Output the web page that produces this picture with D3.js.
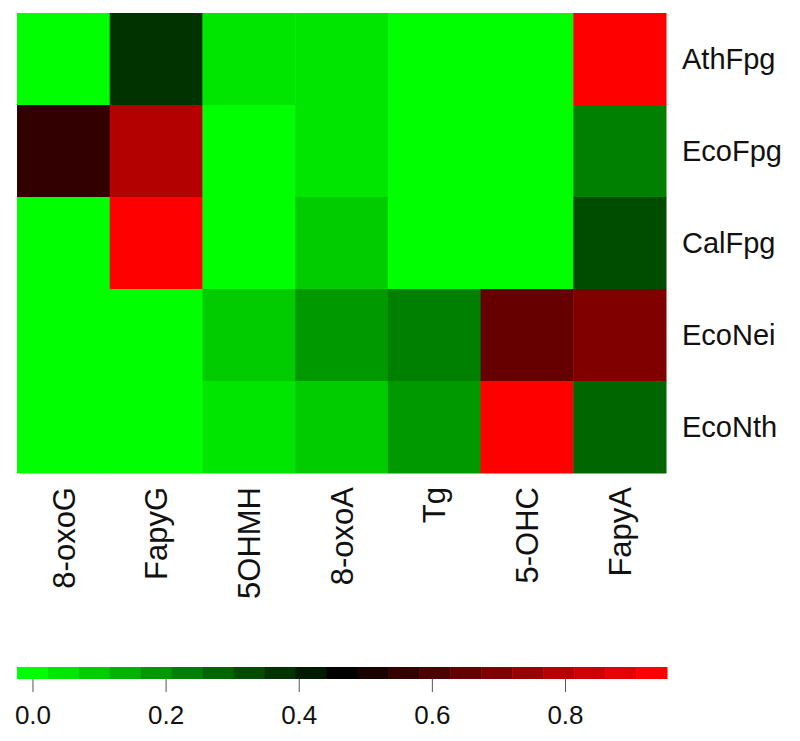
<!DOCTYPE html>
<html>
<head>
<meta charset="utf-8">
<script src="https://cdn.jsdelivr.net/npm/d3@7"></script>
<style>
  html, body { margin: 0; padding: 0; background: #fff; }
  text { font-family: "Liberation Sans", Arial, sans-serif; fill: #111; }
</style>
</head>
<body>
<svg id="chart" width="800" height="741"></svg>
<script>
// ---- data ----
const enzymes = ["AthFpg", "EcoFpg", "CalFpg", "EcoNei", "EcoNth"];
const lesions = ["8-oxoG", "FapyG", "5OHMH", "8-oxoA", "Tg", "5-OHC", "FapyA"];
const rowAthFpg = [0.00, 0.37, 0.05, 0.05, 0.00, 0.00, 0.93];
const rowEcoFpg = [0.56, 0.79, 0.00, 0.05, 0.00, 0.00, 0.23];
const rowCalFpg = [0.00, 0.91, 0.00, 0.09, 0.00, 0.00, 0.33];
const rowEcoNei = [0.00, 0.00, 0.09, 0.19, 0.23, 0.65, 0.70];
const rowEcoNth = [0.00, 0.00, 0.05, 0.09, 0.19, 0.92, 0.28];
const legendTicks = [0.0, 0.2, 0.4, 0.6, 0.8];
const nLevels = 21;
const valueMin = 0.0, valueMax = 0.93;

// ---- build ----
const rows = [rowAthFpg, rowEcoFpg, rowCalFpg, rowEcoNei, rowEcoNth];
const cells = [];
rows.forEach((r, i) => r.forEach((v, j) => cells.push({ row: enzymes[i], col: lesions[j], v })));

const svg = d3.select("#chart");
const step = (valueMax - valueMin) / (nLevels - 1);
const palette = d3.quantize(d3.piecewise(d3.interpolateRgb, ["#00ff00", "#000000", "#ff0000"]), nLevels);
const color = d3.scaleQuantize().domain([valueMin - step / 2, valueMax + step / 2]).range(palette);

const x = d3.scaleBand().domain(lesions).range([17, 666]);
const y = d3.scaleBand().domain(enzymes).range([13, 473]);

svg.append("g").selectAll("rect").data(cells).join("rect")
  .attr("x", d => x(d.col))
  .attr("y", d => y(d.row))
  .attr("width", x.bandwidth() + 0.5)
  .attr("height", y.bandwidth() + 0.5)
  .attr("fill", d => color(d.v));

// row labels
svg.append("g").selectAll("text").data(enzymes).join("text")
  .attr("x", 682)
  .attr("y", d => y(d) + y.bandwidth() / 2)
  .attr("dy", "0.36em")
  .attr("font-size", 29)
  .text(d => d);

// column labels
svg.append("g").selectAll("text").data(lesions).join("text")
  .attr("transform", d => `translate(${x(d) + x.bandwidth() / 2},487) rotate(-90)`)
  .attr("text-anchor", "end")
  .attr("dy", "0.36em")
  .attr("font-size", 31)
  .text(d => d);

// colour key
const levels = palette.map((c, i) => ({ c, v: valueMin + i * step }));
const lx = d3.scaleLinear().domain([valueMin - step / 2, valueMax + step / 2]).range([17, 667]);
const keyTop = 667, keyH = 12;
svg.append("g").selectAll("rect").data(levels).join("rect")
  .attr("x", d => lx(d.v - step / 2))
  .attr("y", keyTop)
  .attr("width", d => lx(d.v + step / 2) - lx(d.v - step / 2) + 0.5)
  .attr("height", keyH)
  .attr("fill", d => d.c);

const axis = svg.append("g")
  .attr("transform", `translate(0,${keyTop + keyH})`)
  .call(d3.axisBottom(lx).tickValues(legendTicks).tickFormat(d3.format(".1f")).tickSize(13).tickPadding(14));
axis.select(".domain").remove();
axis.selectAll(".tick line").attr("stroke", "#555");
axis.selectAll(".tick text").attr("font-size", 26).attr("fill", "#111")
  .attr("font-family", "'Liberation Sans', Arial, sans-serif");
</script>
</body>
</html>
